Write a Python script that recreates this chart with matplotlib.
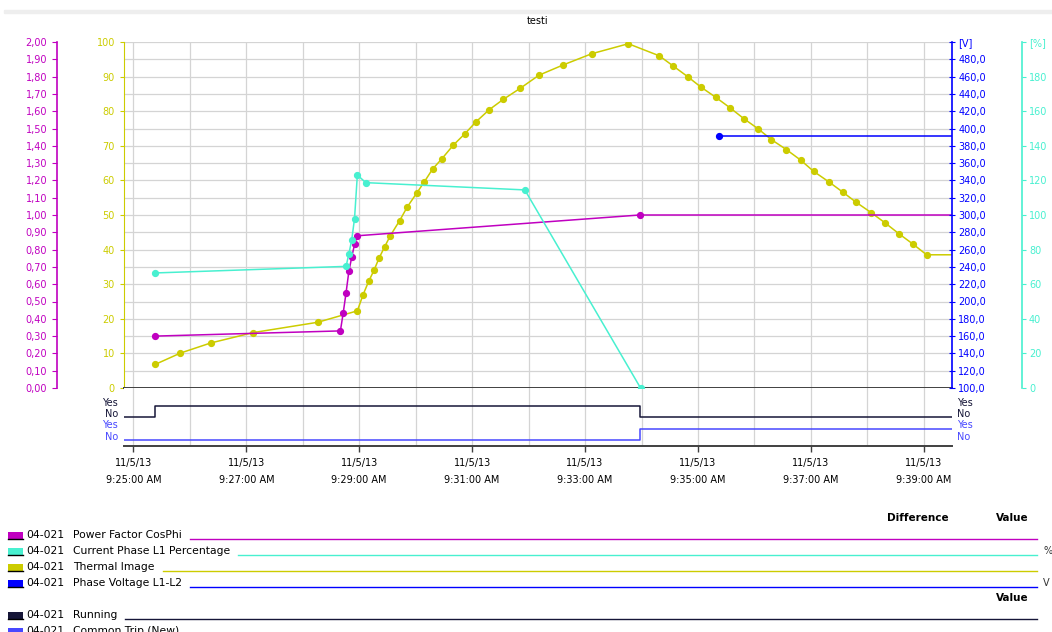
import datetime as dt
import matplotlib
matplotlib.use("Agg")
import matplotlib.pyplot as plt
import matplotlib.dates as mdates
from matplotlib.ticker import FuncFormatter, MultipleLocator
from matplotlib.patches import Rectangle
from matplotlib.lines import Line2D

plt.rcParams['font.family'] = ['DejaVu Sans']
plt.rcParams['font.size'] = 7

DAY = "2013-11-05"

# 04-021 Thermal Image (yellow axis, 0-100)
thermal_times = ["09:25:23", "09:25:50", "09:26:22", "09:27:07", "09:28:16", "09:28:58",
                 "09:29:04", "09:29:10", "09:29:16", "09:29:21", "09:29:27", "09:29:33",
                 "09:29:43", "09:29:51", "09:30:01", "09:30:09", "09:30:18", "09:30:28",
                 "09:30:40", "09:30:52", "09:31:04", "09:31:18", "09:31:33", "09:31:51",
                 "09:32:11", "09:32:37", "09:33:07", "09:33:46", "09:34:19", "09:34:34",
                 "09:34:49", "09:35:03", "09:35:19", "09:35:34", "09:35:49", "09:36:04",
                 "09:36:18", "09:36:34", "09:36:49", "09:37:03", "09:37:19", "09:37:34",
                 "09:37:48", "09:38:04", "09:38:19", "09:38:34", "09:38:49", "09:39:03"]
thermal_values = [6.8, 10.1, 13.0, 16.0, 19.0, 22.3,
                  26.9, 30.8, 34.2, 37.5, 40.8, 44.0,
                  48.4, 52.3, 56.3, 59.5, 63.3, 66.3,
                  70.2, 73.4, 76.9, 80.4, 83.4, 86.6,
                  90.4, 93.4, 96.6, 99.5, 96.0, 93.0,
                  90.0, 87.0, 84.0, 81.0, 77.8, 74.9,
                  71.8, 68.9, 65.9, 62.6, 59.6, 56.6,
                  53.7, 50.7, 47.7, 44.5, 41.5, 38.5]

# 04-021 Power Factor CosPhi (magenta axis, 0-2)
pf_times = ["09:25:23", "09:28:40", "09:28:43", "09:28:46", "09:28:49",
            "09:28:52", "09:28:55", "09:28:58", "09:33:58"]
pf_values = [0.30, 0.33, 0.435, 0.55, 0.675, 0.755, 0.83, 0.88, 1.00]

# 04-021 Current Phase L1 Percentage (cyan axis, 0-200 %)
cur_times = ["09:25:23", "09:28:46", "09:28:49", "09:28:52", "09:28:55",
             "09:28:58", "09:29:07", "09:31:56", "09:33:59"]
cur_values = [66.5, 70.3, 77.5, 85.5, 97.9, 123.1, 118.7, 114.5, 0.0]

# 04-021 Phase Voltage L1-L2 (blue axis, 100-500 V)
volt_times = ["09:35:22"]
volt_values = [391.0]

# digital signals (0 = No, 1 = Yes)
running_times = ["09:24:50", "09:25:23", "09:33:58"]
running_states = [0, 1, 0]
trip_times = ["09:24:50", "09:33:58"]
trip_states = [0, 1]

x_start, x_end = "09:24:50", "09:39:30"

legend_names = ["Power Factor CosPhi", "Current Phase L1 Percentage",
                "Thermal Image", "Phase Voltage L1-L2"]
legend_units = ["", "%", "", "V"]
digital_names = ["Running", "Common Trip (New)"]

C_PF = '#c000c0'
C_CUR = '#48f0d0'
C_TH = '#cccc00'
C_V = '#0000ff'
C_RUN = '#161638'
C_TRIP = '#4848ff'
GRID = '#d4d4d4'
PX = 72 / 100  # points per pixel


def t(s):
    return mdates.date2num(dt.datetime.strptime(DAY + " " + s, "%Y-%m-%d %H:%M:%S"))


def fx(x):
    return x / 1052


def fy(y):
    return 1 - y / 632


def hold(times, values):
    # the last value is held to the right edge of the chart
    return [t(s) for s in times] + [t(x_end)], list(values) + [values[-1]]


fig = plt.figure(figsize=(10.52, 6.32), dpi=100)

ax = fig.add_axes([fx(124), fy(388), (952 - 124) / 1052, (388 - 42) / 632])
axd = fig.add_axes([fx(124), fy(445.7), (952 - 124) / 1052, (445.7 - 388) / 632], sharex=ax)

# ---- yellow host axis
ax.set_xlim(t(x_start), t(x_end))
ax.set_ylim(0, 100)
ax.yaxis.set_major_locator(MultipleLocator(10))
ax.yaxis.set_minor_locator(MultipleLocator(5))
ax.xaxis.set_major_locator(mdates.MinuteLocator(byminute=range(25, 40, 2)))
ax.xaxis.set_minor_locator(mdates.MinuteLocator())
ax.grid(True, which='both', color=GRID, linewidth=0.9)
ax.set_axisbelow(True)
ax.tick_params(axis='x', which='both', bottom=False, labelbottom=False)
ax.tick_params(axis='y', which='major', colors=C_TH, length=3, width=0.8, labelsize=7)
ax.tick_params(axis='y', which='minor', length=0)
ax.yaxis.set_major_formatter(FuncFormatter(lambda v, p: f"{v:.0f}"))
for s in ['top', 'right']:
    ax.spines[s].set_visible(False)
ax.spines['left'].set_color(C_TH)
ax.spines['bottom'].set_color('#404040')
ax.spines['bottom'].set_linewidth(1.4)

# ---- magenta axis (outer left)
axm = ax.twinx()
axm.set_ylim(0, 2)
axm.yaxis.tick_left()
axm.yaxis.set_major_locator(MultipleLocator(0.1))
axm.yaxis.set_major_formatter(FuncFormatter(lambda v, p: f"{v:.2f}".replace('.', ',')))
for s in ['top', 'right', 'bottom']:
    axm.spines[s].set_visible(False)
axm.spines['left'].set_visible(True)
axm.spines['left'].set_position(('outward', 67 * PX))
axm.spines['left'].set_color(C_PF)
axm.spines['left'].set_linewidth(1.2)
axm.tick_params(axis='y', colors=C_PF, length=3.5, width=0.8, labelsize=7)

# ---- blue axis (right)
axv = ax.twinx()
axv.set_ylim(100, 500)
axv.yaxis.set_major_locator(MultipleLocator(20))
axv.yaxis.set_major_formatter(FuncFormatter(
    lambda v, p: "[V]" if v >= 499 else f"{v:.1f}".replace('.', ',')))
for s in ['top', 'left', 'bottom']:
    axv.spines[s].set_visible(False)
axv.spines['right'].set_color(C_V)
axv.spines['right'].set_linewidth(1.2)
axv.tick_params(axis='y', colors=C_V, direction='inout', length=4, width=0.8,
                labelsize=7, pad=2.5)

# ---- cyan axis (outer right)
axc = ax.twinx()
axc.set_ylim(0, 200)
axc.yaxis.set_major_locator(MultipleLocator(20))
axc.yaxis.set_major_formatter(FuncFormatter(
    lambda v, p: "[%]" if v >= 199 else f"{v:.0f}"))
for s in ['top', 'left', 'bottom']:
    axc.spines[s].set_visible(False)
axc.spines['right'].set_position(('outward', 70 * PX))
axc.spines['right'].set_color(C_CUR)
axc.spines['right'].set_linewidth(1.2)
axc.tick_params(axis='y', colors=C_CUR, length=3, width=0.8, labelsize=7, pad=2)

# ---- analog series
mk = dict(marker='o', markersize=4.2, linewidth=1.1)
x, y = hold(thermal_times, thermal_values)
ax.plot(x, y, color=C_TH, markevery=list(range(len(thermal_times))), **mk)
x, y = hold(pf_times, pf_values)
axm.plot(x, y, color=C_PF, markevery=list(range(len(pf_times))), **mk)
axc.plot([t(s) for s in cur_times], cur_values, color=C_CUR, **mk)
x, y = hold(volt_times, volt_values)
axv.plot(x, y, color=C_V, markevery=list(range(len(volt_times))), **mk)

# ---- digital panel
axd.set_ylim(0, 5.06)
axd.set_yticks([])
for s in ['top', 'left', 'right']:
    axd.spines[s].set_visible(False)
axd.spines['bottom'].set_color('#404040')
axd.spines['bottom'].set_linewidth(1.4)
axd.grid(True, which='both', axis='x', color=GRID, linewidth=0.9)
axd.set_axisbelow(True)
axd.tick_params(axis='x', which='major', length=4, width=1.0, color='#404040',
                labelsize=7, pad=5)
axd.tick_params(axis='x', which='minor', length=0)


def fmt_time(v, p):
    d = mdates.num2date(v)
    return f"{d.month}/{d.day}/{d:%y}\n{d.hour % 12 or 12}:{d:%M:%S} {d:%p}"


axd.xaxis.set_major_formatter(FuncFormatter(fmt_time))

xr, yr = hold(running_times, [2.5 + s for s in running_states])
axd.step(xr, yr, where='post', color=C_RUN, linewidth=1.1)
xt, yt = hold(trip_times, [0.5 + s for s in trip_states])
axd.step(xt, yt, where='post', color=C_TRIP, linewidth=1.1)

tr = axd.get_yaxis_transform()
for lvl, txt, col in [(3.5, "Yes", C_RUN), (2.5, "No", C_RUN),
                      (1.5, "Yes", C_TRIP), (0.5, "No", C_TRIP)]:
    axd.text(-0.007, lvl + 0.28, txt, transform=tr, ha='right', va='center',
             color=col, fontsize=7)
    axd.text(1.006, lvl + 0.28, txt, transform=tr, ha='left', va='center',
             color=col, fontsize=7)

# ---- title and top band
fig.patches.append(Rectangle((fx(4), fy(13)), 1 - fx(4), 3 / 632,
                             transform=fig.transFigure, color='#eeeeee'))
fig.text(fx(538), fy(21), "testi", ha='center', va='center', fontsize=7)

# ---- legend table
fig.text(fx(918), fy(518), "Difference", ha='center', va='center',
         fontsize=7.5, fontweight='bold')
fig.text(fx(1012), fy(518), "Value", ha='center', va='center',
         fontsize=7.5, fontweight='bold')
fig.text(fx(1012), fy(598), "Value", ha='center', va='center',
         fontsize=7.5, fontweight='bold')

rows = []
for i, (name, col) in enumerate(zip(legend_names, [C_PF, C_CUR, C_TH, C_V])):
    rows.append((535 + 16 * i, name, col, legend_units[i]))
for i, (name, col) in enumerate(zip(digital_names, [C_RUN, C_TRIP])):
    rows.append((615 + 16 * i, name, col, ""))

name_texts = []
for yy, name, col, unit in rows:
    fig.patches.append(Rectangle((fx(8), fy(yy + 4)), 15 / 1052, 7 / 632,
                                 transform=fig.transFigure, facecolor=col,
                                 edgecolor='none'))
    fig.lines.append(Line2D([fx(8), fx(23)], [fy(yy + 3.5), fy(yy + 3.5)],
                            transform=fig.transFigure, color='black', linewidth=1))
    fig.text(fx(26), fy(yy), "04-021", ha='left', va='center', fontsize=7.75)
    name_texts.append(fig.text(fx(73), fy(yy), name, ha='left', va='center',
                               fontsize=7.75))
    if unit:
        fig.text(fx(1043), fy(yy), unit, ha='left', va='center', fontsize=7,
                 color='#333333')

fig.canvas.draw()
for tick in axd.xaxis.get_major_ticks():
    tick.label1.set_linespacing(1.8)
renderer = fig.canvas.get_renderer()
for (yy, name, col, unit), txt in zip(rows, name_texts):
    bb = txt.get_window_extent(renderer)
    fig.lines.append(Line2D([fx(bb.x1 + 8), fx(1037)], [fy(yy + 4), fy(yy + 4)],
                            transform=fig.transFigure, color=col, linewidth=1))

fig.savefig("out.png", dpi=100)
